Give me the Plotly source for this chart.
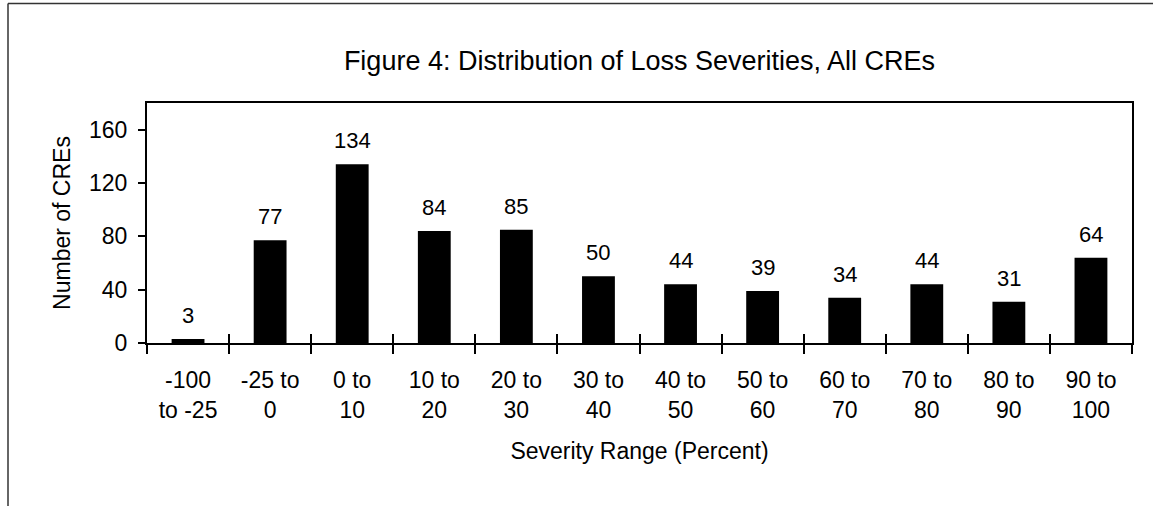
import plotly.graph_objects as go

categories = ["-100<br>to -25", "-25 to<br>0", "0 to<br>10", "10 to<br>20", "20 to<br>30",
              "30 to<br>40", "40 to<br>50", "50 to<br>60", "60 to<br>70", "70 to<br>80",
              "80 to<br>90", "90 to<br>100"]
counts = [3, 77, 134, 84, 85, 50, 44, 39, 34, 44, 31, 64]
y_ticks = [0, 40, 80, 120, 160]

title_text = "Figure 4: Distribution of Loss Severities, All CREs"
x_title = "Severity Range (Percent)"
y_title = "Number of CREs"

W, H = 1153, 506
L, R, T, B = 147, 1132, 103, 343
FONT = "Liberation Sans, Arial, sans-serif"
x_range = [-0.5, len(categories) - 0.5]

fig = go.Figure()
fig.add_trace(go.Bar(x=categories, y=counts, marker=dict(color="black", line=dict(width=0)),
                     hoverinfo="skip", showlegend=False))
# helper invisible trace for inside tick marks
fig.add_trace(go.Scatter(x=categories, y=counts, xaxis="x2", mode="markers",
                         marker=dict(opacity=0), hoverinfo="skip", showlegend=False))

for c, v in zip(categories, counts):
    fig.add_annotation(x=c, y=v, text=str(v), showarrow=False, yanchor="bottom",
                       yshift=9, font=dict(size=22, color="black", family=FONT))

pw = R - L
ph = B - T
def px(x):
    return (x - L) / pw
def py(y):
    return (B - y) / ph

# outer frame (left and top edges)
fig.add_shape(type="line", xref="paper", yref="paper", x0=px(8), y0=py(H + 2), x1=px(8), y1=py(3.5),
              line=dict(color="#333333", width=1.5))
fig.add_shape(type="line", xref="paper", yref="paper", x0=px(8), y0=py(3.5), x1=px(W + 2), y1=py(3.5),
              line=dict(color="#333333", width=1.5))

fig.update_layout(
    width=W, height=H,
    margin=dict(l=L, r=W - R, t=T, b=H - B),
    paper_bgcolor="white", plot_bgcolor="white",
    font=dict(family=FONT, size=23, color="black"),
    bargap=0.6,
    title=dict(text=title_text, x=0.5, xref="paper", xanchor="center",
               y=1 - 61 / H, yref="container", yanchor="middle",
               font=dict(size=27, family=FONT, color="black")),
    xaxis=dict(type="category", categoryarray=categories, range=x_range, showline=True,
               linecolor="black", linewidth=2, mirror=True, ticks="outside",
               tickson="boundaries", ticklen=9, tickwidth=2, tickcolor="black",
               showgrid=False, zeroline=False, tickfont=dict(size=23), ticklabelstandoff=15,
               title=dict(text=x_title, font=dict(size=23), standoff=21)),
    xaxis2=dict(type="category", categoryarray=categories, range=x_range, overlaying="x",
                ticks="inside", tickson="boundaries", ticklen=9, tickwidth=2, tickcolor="black",
                showticklabels=False, showgrid=False, zeroline=False, showline=False),
    yaxis=dict(range=[0, 180], tickvals=y_ticks, showline=True, linecolor="black", linewidth=2,
               mirror=True, ticks="outside", ticklen=7, tickwidth=2, tickcolor="black",
               showgrid=False, zeroline=False, tickfont=dict(size=23), ticklabelstandoff=6,
               title=dict(text=y_title, font=dict(size=23), standoff=12)),
)

fig.write_html("out.html", config={"displayModeBar": False},
               post_script="document.body.style.margin='0';document.body.style.overflow='hidden';")
